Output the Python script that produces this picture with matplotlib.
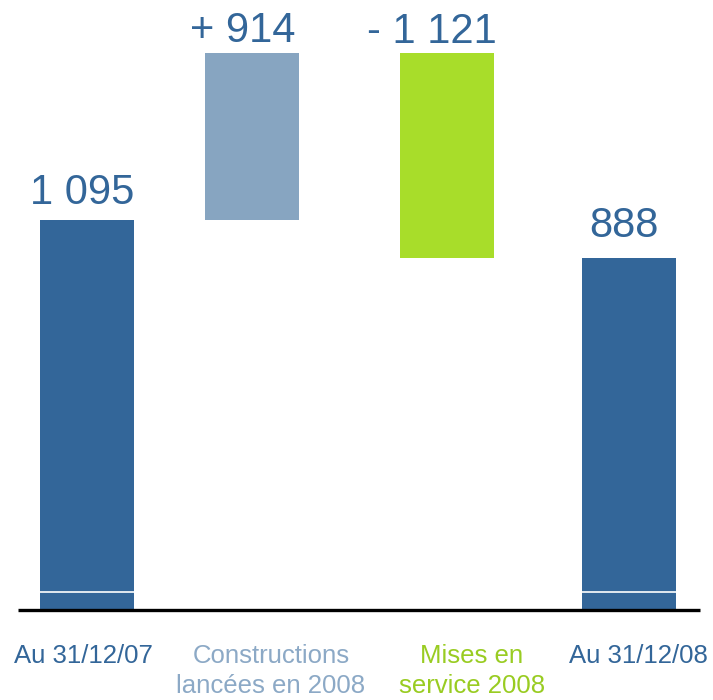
import matplotlib
matplotlib.use("Agg")
import matplotlib.pyplot as plt
import matplotlib.transforms as mtransforms

plt.rcParams['font.family'] = ['Liberation Sans', 'DejaVu Sans']

# ---- data ----
categories = ["Au 31/12/07", "Constructions\nlancées en 2008", "Mises en\nservice 2008", "Au 31/12/08"]
changes = [1095, 914, -1121, 888]          # start total, increase, decrease, end total
value_labels = ["1 095", "+ 914", "- 1 121", "888"]
kinds = ["total", "delta", "delta", "total"]

# ---- layout / style ----
bar_x = [87, 251.5, 446.5, 628.5]
value_label_x = [82, 243, 432, 624]
value_label_pad = [5, 1.5, 1, 8.5]
cat_label_x = [83, 271, 472, 638]
bar_colors = ["#336699", "#87A5C1", "#A8DD2A", "#336699"]
cat_text_colors = ["#336699", "#8CA9C6", "#99CC22", "#336699"]
value_color = "#336699"
bar_width = 94

fig = plt.figure(figsize=(7.13, 7.00), dpi=100)
ax = fig.add_axes([0, 90/700, 1, 610/700])
ax.set_xlim(0, 713)
ylo, yhi = -1040, 2299
ax.set_ylim(ylo, yhi)
ax.axis('off')

running = 0
for i, (v, kind) in enumerate(zip(changes, kinds)):
    if kind == "total":
        bottom, top = ylo, v
        running = v
    else:
        start = running
        running = running + v
        bottom, top = min(start, running), max(start, running)
    ax.bar(bar_x[i], top - bottom, bottom=bottom, width=bar_width,
           color=bar_colors[i], edgecolor='none', zorder=2)
    # value label
    ax.annotate(value_labels[i], xy=(value_label_x[i], top), xytext=(0, value_label_pad[i]),
                textcoords='offset points', ha='center', va='bottom',
                fontsize=30, color=value_color)
    # break marker on totals
    if kind == "total":
        trans = mtransforms.blended_transform_factory(ax.transData, ax.transAxes)
        ax.plot([bar_x[i] - bar_width/2, bar_x[i] + bar_width/2], [18/610, 18/610],
                color='white', lw=1.2, transform=trans, zorder=3, solid_capstyle='butt')

# baseline
ax.plot([18/713, 700/713], [0, 0], color='black', lw=2.4, transform=ax.transAxes,
        clip_on=False, zorder=4, solid_capstyle='butt')

# category labels
for i, lab in enumerate(categories):
    fig.text(cat_label_x[i]/713, 1 - 644/700, lab, ha='center', va='top',
             fontsize=18.5, color=cat_text_colors[i], linespacing=1.3)

fig.savefig("out.png", dpi=100)
